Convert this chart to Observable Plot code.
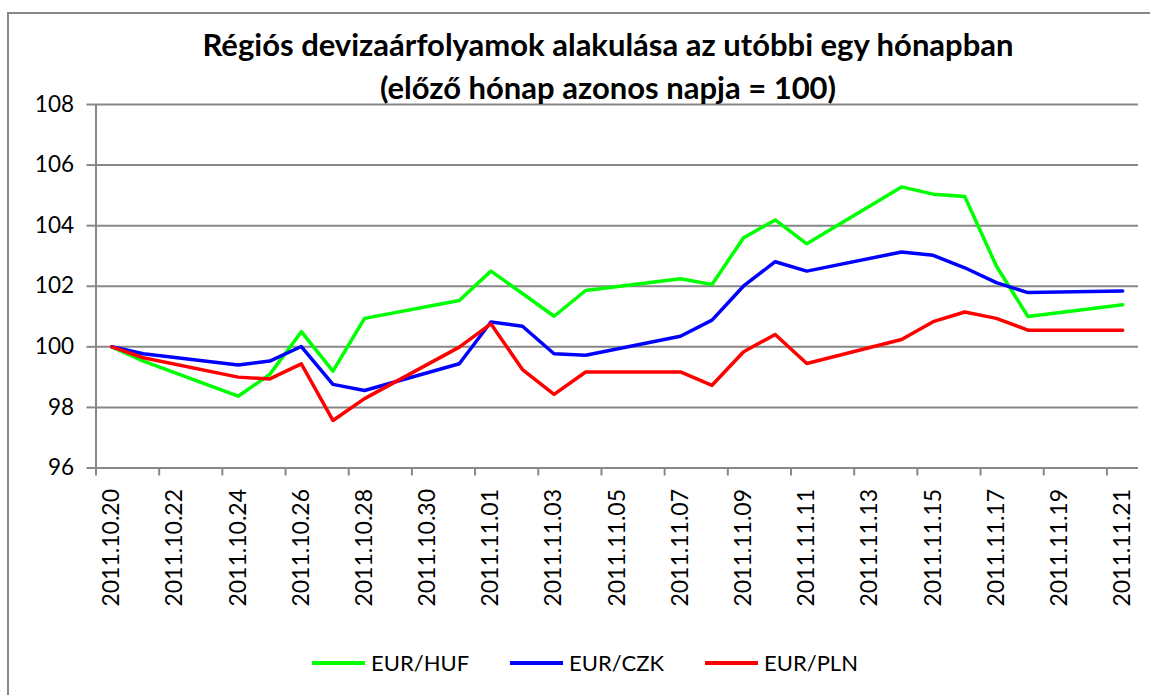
<!DOCTYPE html>
<html>
<head>
<meta charset="utf-8">
<script src="https://cdn.jsdelivr.net/npm/d3@7"></script>
<script src="https://cdn.jsdelivr.net/npm/@observablehq/plot@0.6"></script>
<style>
  html, body { margin: 0; padding: 0; background: #fff; }
  #page { position: relative; width: 1150px; height: 695px; overflow: hidden; font-family: Lato, "Open Sans", sans-serif; }
  #frame { position: absolute; left: 7px; top: 12px; width: 1200px; height: 720px; border-left: 2px solid #888; border-top: 2px solid #888; box-sizing: border-box; pointer-events: none; }
  #title { position: relative; height: 94px; text-align: center; font-weight: bold; font-size: 31px; color: #000; }
  #title .l1 { position: absolute; left: 0; right: 0; top: 25px; line-height: 38px; padding-left: 66px; }
  #title .l2 { position: absolute; left: 0; right: 0; top: 68px; line-height: 38px; padding-left: 66px; }
  #legend { display: flex; justify-content: center; align-items: center; gap: 41px; font-size: 22px; color: #000; padding-left: 20px; padding-top: 6px; box-sizing: border-box; }
  #legend .item { display: flex; align-items: center; gap: 6px; }
  #legend .sw { width: 53px; height: 4px; }
</style>
</head>
<body>
<div id="page">
  <div id="frame"></div>
  <div id="title"><div class="l1">Régiós devizaárfolyamok alakulása az utóbbi egy hónapban</div><div class="l2">(előző hónap azonos napja = 100)</div></div>
  <div id="chart"></div>
  <div id="legend"></div>
</div>
<script>
// ---- data ----
const dates = ["2011-10-20","2011-10-21","2011-10-24","2011-10-25","2011-10-26","2011-10-27","2011-10-28","2011-10-31","2011-11-01","2011-11-02","2011-11-03","2011-11-04","2011-11-07","2011-11-08","2011-11-09","2011-11-10","2011-11-11","2011-11-14","2011-11-15","2011-11-16","2011-11-17","2011-11-18","2011-11-21"];
const eurHuf = [100.0, 99.53, 98.37, 99.09, 100.50, 99.20, 100.94, 101.53, 102.50, 101.76, 101.01, 101.86, 102.25, 102.06, 103.60, 104.19, 103.40, 105.28, 105.04, 104.96, 102.67, 101.00, 101.39];
const eurCzk = [100.0, 99.77, 99.40, 99.53, 100.01, 98.76, 98.56, 99.44, 100.82, 100.68, 99.77, 99.72, 100.35, 100.88, 102.01, 102.81, 102.50, 103.13, 103.02, 102.61, 102.12, 101.79, 101.84];
const eurPln = [100.0, 99.64, 99.00, 98.94, 99.44, 97.57, 98.29, 99.99, 100.76, 99.25, 98.43, 99.17, 99.17, 98.73, 99.84, 100.41, 99.45, 100.24, 100.83, 101.15, 100.94, 100.55, 100.55];
const seriesNames = ["EUR/HUF", "EUR/CZK", "EUR/PLN"];
const seriesColors = ["#00ff00", "#0000ff", "#ff0000"];
const xTickLabels = ["2011.10.20","2011.10.22","2011.10.24","2011.10.26","2011.10.28","2011.10.30","2011.11.01","2011.11.03","2011.11.05","2011.11.07","2011.11.09","2011.11.11","2011.11.13","2011.11.15","2011.11.17","2011.11.19","2011.11.21"];
const yTicks = [96, 98, 100, 102, 104, 106, 108];

// ---- build table ----
const parseISO = d3.utcParse("%Y-%m-%d");
const parseLbl = d3.utcParse("%Y.%m.%d");
const seriesValues = [eurHuf, eurCzk, eurPln];
const rows = [];
seriesNames.forEach((name, i) => {
  dates.forEach((d, j) => rows.push({date: parseISO(d), value: seriesValues[i][j], series: name}));
});
const halfDay = 12 * 3600 * 1000;
const labelDates = xTickLabels.map(parseLbl);
const tickMarkDates = labelDates.map(d => new Date(+d - halfDay));
const xDomain = [new Date(+parseISO(dates[0]) - halfDay), new Date(+parseISO(dates[dates.length - 1]) + halfDay)];

const grid = "#878787";
const chart = Plot.plot({
  width: 1150,
  height: 530,
  marginLeft: 95.5,
  marginRight: 12,
  marginTop: 10,
  marginBottom: 156.5,
  style: {fontFamily: "Lato, 'Open Sans', sans-serif", color: "#000", background: "#fff", overflow: "visible"},
  x: {type: "utc", domain: xDomain},
  y: {domain: [96, 108]},
  color: {domain: seriesNames, range: seriesColors},
  marks: [
    Plot.gridY(yTicks, {stroke: grid, strokeOpacity: 1, strokeWidth: 2}),
    Plot.ruleX([xDomain[0]], {stroke: grid, strokeWidth: 2}),
    Plot.axisY({ticks: yTicks, tickSize: 9, tickPadding: 13, stroke: grid, strokeWidth: 2, fontSize: 22.5, label: null, fill: "#000"}),
    Plot.axisX({ticks: tickMarkDates, tickSize: 8, tickFormat: () => "", stroke: grid, strokeWidth: 2, label: null}),
    Plot.axisX({ticks: labelDates, tickSize: 0, tickPadding: 21, tickRotate: -90, tickFormat: d3.utcFormat("%Y.%m.%d"), fontSize: 23, label: null, fill: "#000"}),
    Plot.line(rows, {x: "date", y: "value", z: "series", stroke: "series", strokeWidth: 3.5, strokeLinejoin: "round"})
  ]
});
document.getElementById("chart").appendChild(chart);

// ---- legend ----
const legend = document.getElementById("legend");
legend.style.height = (695 - 94 - 530) + "px";
seriesNames.forEach((name, i) => {
  const item = document.createElement("div");
  item.className = "item";
  const sw = document.createElement("span");
  sw.className = "sw";
  sw.style.background = seriesColors[i];
  const t = document.createElement("span");
  t.textContent = name;
  item.appendChild(sw);
  item.appendChild(t);
  legend.appendChild(item);
});
</script>
</body>
</html>
